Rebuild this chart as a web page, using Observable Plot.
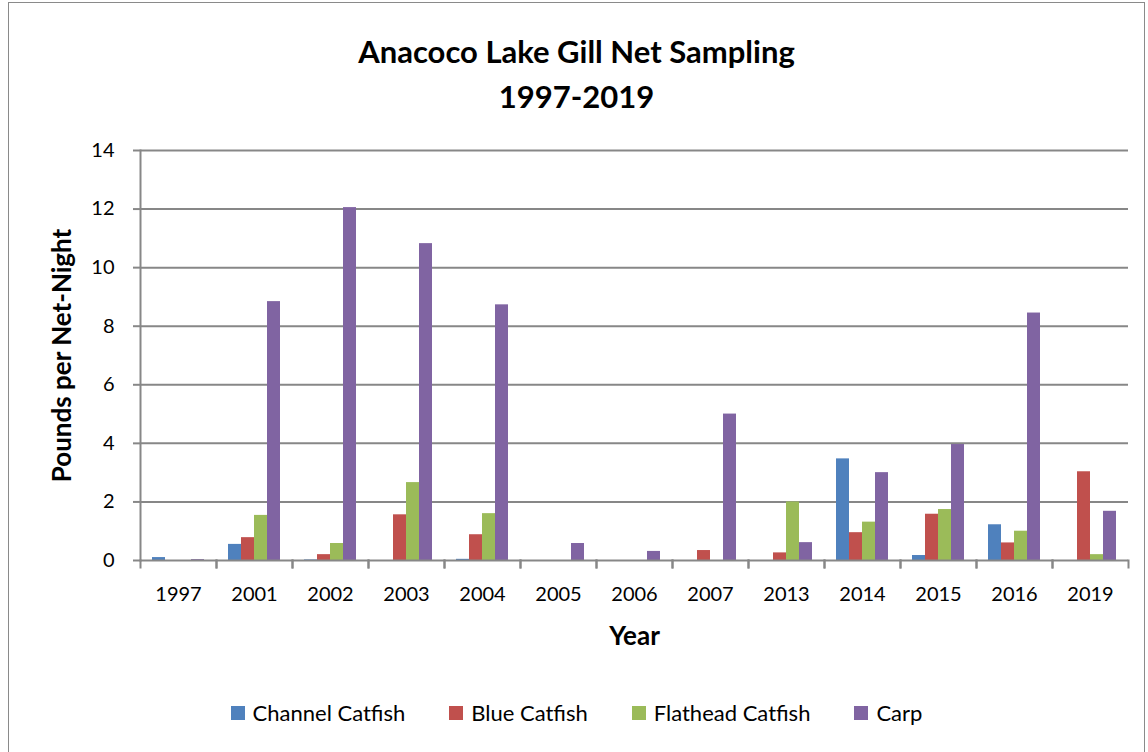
<!DOCTYPE html>
<html>
<head>
<meta charset="utf-8">
<script src="https://cdn.jsdelivr.net/npm/d3@7"></script>
<script src="https://cdn.jsdelivr.net/npm/@observablehq/plot@0.6"></script>
<style>
  html, body { margin: 0; padding: 0; background: #fff; }
  body { width: 1148px; height: 752px; position: relative; overflow: hidden; font-family: Lato, "Open Sans", sans-serif; }
  #box { position: absolute; left: 8px; top: 2px; width: 1137px; height: 800px; border: 1.5px solid #8a8a8a; box-sizing: border-box; }
  #title { position: absolute; left: 8px; width: 1137px; top: 29px; text-align: center; font-weight: 700; font-size: 31px; line-height: 45px; color: #000; }
  #chart { position: absolute; left: 0; top: 130px; }
  #legend { position: absolute; left: 8px; width: 1137px; top: 699px; display: flex; justify-content: center; gap: 44px; font-size: 22px; color: #000; }
  #legend .item { display: flex; align-items: center; gap: 8px; }
  #legend .sw { width: 14px; height: 14px; display: inline-block; }
  g[aria-label="y-axis label"] text, g[aria-label="fx-axis label"] text { font-weight: 700; font-size: 26px; }
</style>
</head>
<body>
<div id="box"></div>
<div id="title">Anacoco Lake Gill Net Sampling<br>1997-2019</div>
<div id="chart"></div>
<div id="legend"></div>
<script>
const years = ["1997","2001","2002","2003","2004","2005","2006","2007","2013","2014","2015","2016","2019"];
const species = ["Channel Catfish","Blue Catfish","Flathead Catfish","Carp"];
const channelCatfish = [0.1, 0.55, 0.02, 0, 0.04, 0, 0, 0, 0, 3.47, 0.17, 1.22, 0];
const blueCatfish = [0, 0.78, 0.2, 1.56, 0.88, 0, 0, 0.34, 0.26, 0.95, 1.58, 0.6, 3.03];
const flatheadCatfish = [0, 1.54, 0.58, 2.66, 1.6, 0, 0, 0, 2.0, 1.31, 1.74, 1.0, 0.2];
const carp = [0.03, 8.84, 12.05, 10.82, 8.73, 0.58, 0.31, 5.0, 0.61, 3.0, 3.96, 8.45, 1.68];
const yTicks = [0, 2, 4, 6, 8, 10, 12, 14];
const colors = ["#4F81BD", "#C0504D", "#9BBB59", "#8064A2"];

const series = [channelCatfish, blueCatfish, flatheadCatfish, carp];
const data = [];
years.forEach((yr, i) => {
  species.forEach((sp, j) => data.push({year: yr, species: sp, value: series[j][i]}));
});

const grey = "#878787";
const chart = Plot.plot({
  width: 1148,
  height: 530,
  marginLeft: 137,
  marginRight: 18,
  marginTop: 20,
  marginBottom: 100,
  style: {fontFamily: "Lato, 'Open Sans', sans-serif", fontSize: "20px", color: "#000", background: "transparent", overflow: "visible"},
  fx: {domain: years, padding: 0},
  x: {domain: species, paddingInner: 0, paddingOuter: 0.73, axis: null},
  y: {domain: [0, 14]},
  color: {domain: species, range: colors},
  marks: [
    Plot.gridY(yTicks.filter(d => d > 0), {stroke: grey, strokeOpacity: 1, strokeWidth: 2}),
    Plot.barY(data, {fx: "year", x: "species", y: "value", fill: "species"}),
    Plot.ruleY([0], {stroke: grey, strokeWidth: 2}),
    Plot.frame({anchor: "left", stroke: grey, strokeWidth: 2, insetTop: 410, insetBottom: -7}),
    Plot.frame({anchor: "right", stroke: grey, strokeWidth: 2, insetTop: 410, insetBottom: -7}),
    Plot.frame({anchor: "left", facetAnchor: "left", stroke: grey, strokeWidth: 2}),
    Plot.axisY({ticks: yTicks, tickSize: 7, tickPadding: 19, stroke: grey, strokeWidth: 2, fill: "#000",
      label: "Pounds per Net-Night", labelAnchor: "center", labelArrow: "none", labelOffset: 88}),
    Plot.axisFx({anchor: "bottom", tickSize: 0, tickPadding: 26, label: "Year", labelAnchor: "center", labelArrow: "none", labelOffset: 84})
  ]
});
document.getElementById("chart").appendChild(chart);

const legend = document.getElementById("legend");
species.forEach((sp, j) => {
  const item = document.createElement("div");
  item.className = "item";
  const sw = document.createElement("span");
  sw.className = "sw";
  sw.style.background = colors[j];
  const t = document.createElement("span");
  t.textContent = sp;
  item.appendChild(sw);
  item.appendChild(t);
  legend.appendChild(item);
});
</script>
</body>
</html>
